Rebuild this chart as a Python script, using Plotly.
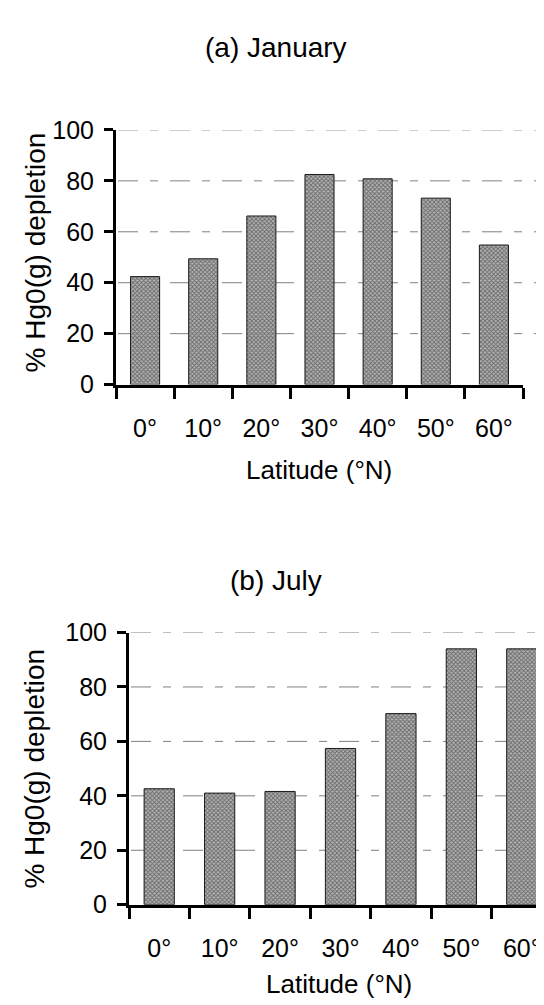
import plotly.graph_objects as go

categories = ["0°", "10°", "20°", "30°", "40°", "50°", "60°"]
january = [42.4, 49.4, 66.2, 82.5, 80.8, 73.2, 54.8]
july = [42.6, 41.0, 41.6, 57.4, 70.2, 94.0, 94.0]
y_ticks = [0, 20, 40, 60, 80, 100]
grid_vals = [20, 40, 60, 80, 100]

W, H = 544, 1005
FONT = "Liberation Sans, Arial, Helvetica, sans-serif"

def px_x(x):
    return x / W

def px_y(y):
    return 1 - y / H

bar_style = dict(
    color="#7a7a7a",
    line=dict(color="#1a1a1a", width=1),
    pattern=dict(shape="x", fgcolor="#1a1a1a", bgcolor="#b4b4b4", size=3, solidity=0.5),
)

fig = go.Figure()
fig.add_trace(go.Bar(x=categories, y=january, marker=bar_style, width=0.5,
                     xaxis="x", yaxis="y", showlegend=False))
fig.add_trace(go.Bar(x=categories, y=july, marker=bar_style, width=0.5,
                     xaxis="x2", yaxis="y2", showlegend=False))

xcommon = dict(type="category", showline=True, linecolor="black", linewidth=3,
               ticks="outside", tickson="boundaries", ticklen=11, tickwidth=3,
               tickcolor="black", showgrid=False, zeroline=False,
               ticklabelstandoff=19,
               tickfont=dict(family=FONT, size=25, color="black"),
               range=[-0.5, 6.5], fixedrange=True)
ycommon = dict(range=[0, 100], tickvals=y_ticks, showline=True, linecolor="black",
               linewidth=3, ticks="outside", ticklen=9, tickwidth=3, tickcolor="black",
               showgrid=False, zeroline=False, ticklabelstandoff=5,
               tickfont=dict(family=FONT, size=25, color="black"))

fig.update_layout(
    width=W, height=H,
    margin=dict(l=0, r=0, t=0, b=0),
    paper_bgcolor="white", plot_bgcolor="rgba(0,0,0,0)",
    bargap=0.5,
    xaxis=dict(domain=[px_x(108), px_x(515)], anchor="y", **xcommon),
    yaxis=dict(domain=[px_y(373), px_y(111)], anchor="x", **ycommon),
    xaxis2=dict(domain=[px_x(121), 1.0], anchor="y2", **xcommon),
    yaxis2=dict(domain=[px_y(908), px_y(628)], anchor="x2", **ycommon),
)

shapes = []
for yref, x0, x1 in (("y", 110, 528), ("y2", 123, 544)):
    for v in grid_vals:
        shapes.append(dict(type="line", xref="paper", yref=yref, x0=px_x(x0), x1=px_x(x1),
                           y0=v, y1=v, layer="below",
                           line=dict(color="#808080", width=1, dash="20px,12px,8px,12px")))
fig.update_layout(shapes=shapes)

ann = []
def text(x, y, s, size, angle=0):
    ann.append(dict(x=px_x(x), y=px_y(y), xref="paper", yref="paper", text=s,
                    showarrow=False, textangle=angle, xanchor="center", yanchor="middle",
                    font=dict(family=FONT, size=size, color="black")))

text(268, 26, "(a) January", 28)
text(311, 461, "Latitude (°N)", 26)
text(27, 237, "% Hg0(g) depletion", 28, -90)
text(268, 575, "(b) July", 28)
text(331, 990, "Latitude (°N)", 26)
text(27, 768, "% Hg0(g) depletion", 28, -90)
fig.update_layout(annotations=ann)

fig.write_html("out.html")
